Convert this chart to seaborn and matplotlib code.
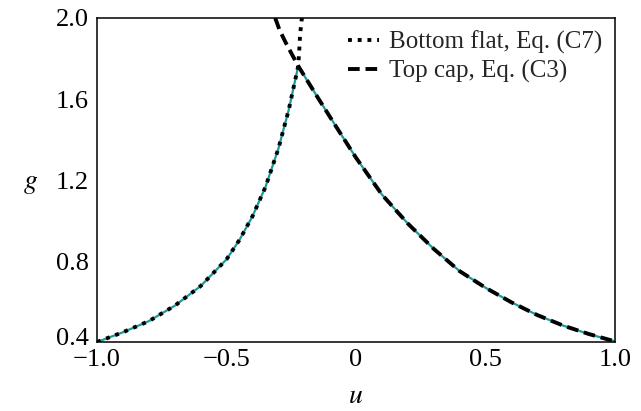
import matplotlib
matplotlib.use("Agg")
import matplotlib.pyplot as plt
import matplotlib.transforms as mtransforms
import seaborn as sns
import pandas as pd

# Bottom flat branch, Eq. (C7)
u_flat = [-1.0, -0.9, -0.8, -0.7, -0.6, -0.5, -0.45, -0.4, -0.35, -0.3, -0.26,
          -0.223, -0.219, -0.216, -0.210, -0.208]
g_flat = [0.400, 0.448, 0.503, 0.579, 0.676, 0.808, 0.904, 1.020, 1.164, 1.353, 1.545,
          1.763, 1.842, 1.916, 1.990, 2.000]

# Top cap branch, Eq. (C3)
u_cap = [-0.312, -0.295, -0.27, -0.245, -0.223, -0.15, -0.08, 0.0, 0.1, 0.2, 0.3,
         0.4, 0.5, 0.6, 0.7, 0.8, 0.9, 1.0]
g_cap = [2.000, 1.940, 1.875, 1.815, 1.763, 1.612, 1.470, 1.310, 1.128, 0.985, 0.860,
         0.750, 0.668, 0.596, 0.533, 0.481, 0.439, 0.403]

u_cusp = -0.223
g_cusp = 1.763

xticks = [-1.0, -0.5, 0.0, 0.5, 1.0]
xticklabels = ["\u22121.0", "\u22120.5", "0", "0.5", "1.0"]
yticks = [0.4, 0.8, 1.2, 1.6, 2.0]
yticklabels = ["0.4", "0.8", "1.2", "1.6", "2.0"]

sns.set_theme(style="white")
plt.rcParams["font.family"] = ["Liberation Serif", "DejaVu Serif"]
plt.rcParams["mathtext.fontset"] = "stix"

fig = plt.figure(figsize=(6.41, 4.11), dpi=100)
ax = fig.add_axes([97 / 641, 1 - 342 / 411, 518 / 641, 324 / 411])

df_flat = pd.DataFrame({"u": u_flat, "g": g_flat})
df_cap = pd.DataFrame({"u": u_cap, "g": g_cap})
df_full = pd.concat([df_flat[(df_flat.u <= u_cusp) & (df_flat.g <= g_cusp)],
                     df_cap[df_cap.u > u_cusp]])

teal = "#1b9a9a"
sns.lineplot(data=df_full, x="u", y="g", ax=ax, color=teal, lw=1.6, sort=False,
             estimator=None, legend=False)
sns.lineplot(data=df_flat, x="u", y="g", ax=ax, color="black", lw=2.8, sort=False,
             estimator=None, linestyle=(0, (1, 1.5)), label="Bottom flat, Eq. (C7)")
sns.lineplot(data=df_cap, x="u", y="g", ax=ax, color="black", lw=2.8, sort=False,
             estimator=None, linestyle=(0, (3.0, 1.5)), label="Top cap, Eq. (C3)")

ax.set_xlim(-1.0, 1.0)
ax.set_ylim(0.4, 2.0)
ax.set_xticks(xticks)
ax.set_xticklabels(xticklabels)
ax.set_yticks(yticks)
ax.set_yticklabels(yticklabels)
ax.tick_params(direction="in", length=8, width=1.0, labelsize=19, color="black",
               top=False, right=False, labelcolor="black")
ax.tick_params(axis="x", pad=5)
ax.tick_params(axis="y", pad=6)
for s in ax.spines.values():
    s.set_visible(True)
    s.set_color("black")
    s.set_linewidth(1.1)

# raise the lowest y tick label slightly, as in the reference
lab = ax.get_yticklabels()[0]
lab.set_transform(lab.get_transform() + mtransforms.ScaledTranslation(0, 6 / 100, fig.dpi_scale_trans))

ax.set_xlabel("$u$", fontsize=20, color="black", va="center")
ax.xaxis.set_label_coords(0.5, -0.168)
ax.set_ylabel("$g$", fontsize=20, rotation=0, color="black", va="center", ha="center")
ax.yaxis.set_label_coords(-0.129, 0.49)

ax.legend(loc="upper right", frameon=False, fontsize=18, handlelength=1.25,
          handletextpad=0.4, labelspacing=0.25, borderaxespad=0.1, borderpad=0.4)

fig.savefig("out.png", dpi=100)
